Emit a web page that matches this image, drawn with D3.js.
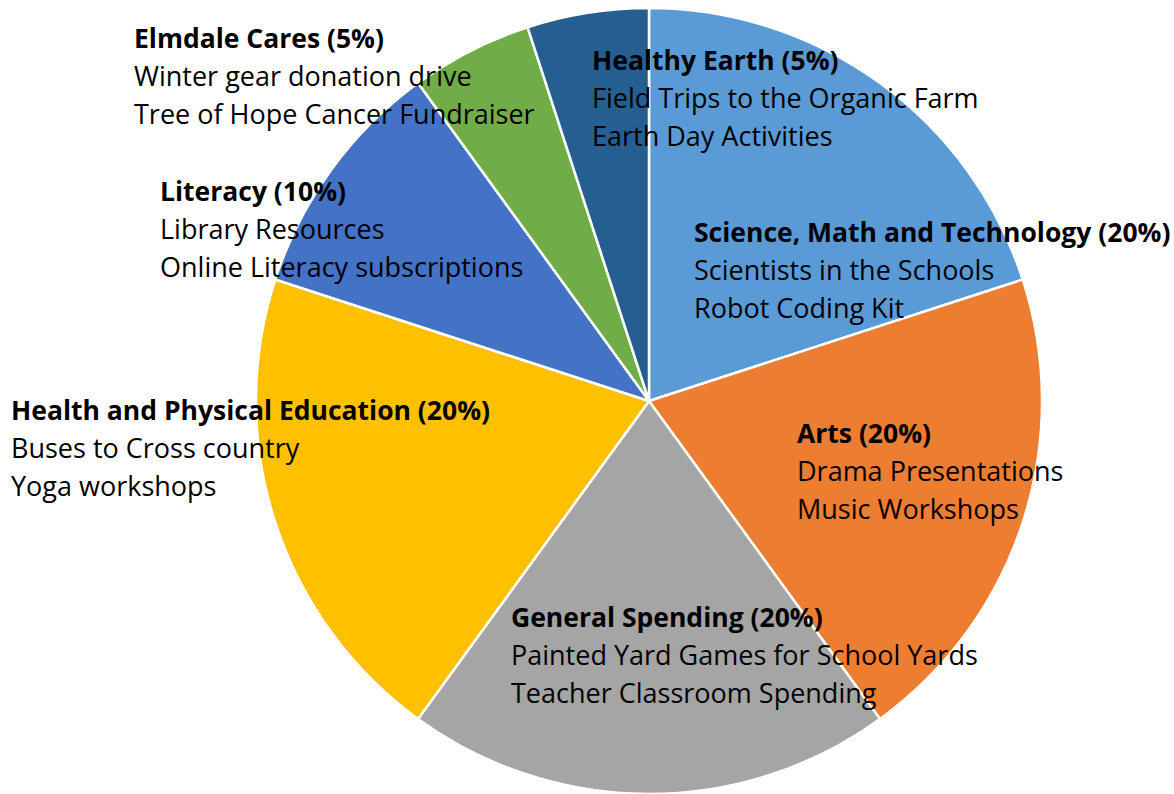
<!DOCTYPE html>
<html>
<head>
<meta charset="utf-8">
<script src="https://cdn.jsdelivr.net/npm/d3@7"></script>
<style>
  html, body { margin: 0; padding: 0; background: #fff; }
</style>
</head>
<body>
<div id="pie"></div>
<script>
(() => {

    var width = 1174, height = 794;

    // slices, clockwise from 12 o'clock
    var categories = ["Science, Math and Technology", "Arts", "General Spending",
        "Health and Physical Education", "Literacy", "Elmdale Cares", "Healthy Earth"];
    var shares = [20, 20, 20, 20, 10, 5, 5];
    var items = [
        ["Scientists in the Schools", "Robot Coding Kit"],
        ["Drama Presentations", "Music Workshops"],
        ["Painted Yard Games for School Yards", "Teacher Classroom Spending"],
        ["Buses to Cross country", "Yoga workshops"],
        ["Library Resources", "Online Literacy subscriptions"],
        ["Winter gear donation drive", "Tree of Hope Cancer Fundraiser"],
        ["Field Trips to the Organic Farm", "Earth Day Activities"]
    ];
    var colors = ["#5B9BD5", "#ED7D31", "#A5A5A5", "#FFC000", "#4472C4", "#70AD47", "#255E91"];

    // where the (hand placed) labels sit: left x, first baseline
    var labelPos = [[694, 242], [797, 443], [511, 627], [11, 420], [160, 201], [134, 48], [592, 70]];

    var cx = 649, cy = 401, radius = 393;

    var svg = d3.select("#pie")
        .append("svg")
        .attr("width", width)
        .attr("height", height);

    var g = svg.append("g")
        .attr("transform", "translate(" + cx + "," + cy + ")");

    var pie = d3.pie().sort(null).value(function (d) { return d; });
    var arc = d3.arc().innerRadius(0).outerRadius(radius);

    g.selectAll("path")
        .data(pie(shares))
        .enter()
        .append("path")
        .attr("d", arc)
        .attr("fill", function (d, i) { return colors[i]; })
        .attr("stroke", "#fff")
        .attr("stroke-width", 2.5)
        .attr("stroke-linejoin", "round");

    var lineH = 38;

    var labels = svg.selectAll("g.label")
        .data(categories)
        .enter()
        .append("g")
        .attr("class", "label")
        .attr("transform", function (d, i) { return "translate(" + labelPos[i][0] + "," + labelPos[i][1] + ")"; });

    labels.append("text")
        .attr("y", 0)
        .style("font-family", "'Open Sans', sans-serif")
        .style("font-size", "26.5px")
        .style("font-weight", "bold")
        .attr("fill", "#000")
        .text(function (d, i) { return d + " (" + shares[i] + "%)"; });

    labels.each(function (d, i) {
        d3.select(this).selectAll("text.item")
            .data(items[i])
            .enter()
            .append("text")
            .attr("class", "item")
            .attr("y", function (t, j) { return (j + 1) * lineH; })
            .style("font-family", "'Open Sans', sans-serif")
            .style("font-size", "27px")
            .attr("fill", "#000")
            .text(function (t) { return t; });
    });

})();
</script>
</body>
</html>
